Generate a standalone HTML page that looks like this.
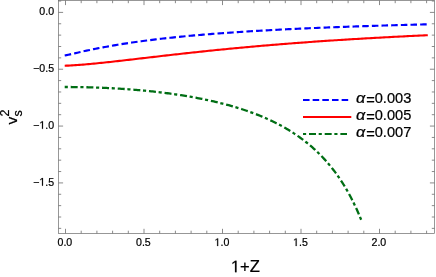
<!DOCTYPE html>
<html><head><meta charset="utf-8"><title>plot</title>
<style>
html,body{margin:0;padding:0;background:#fff;}
body{width:436px;height:277px;overflow:hidden;}
svg{display:block;will-change:transform;}
text{font-family:"Liberation Sans",sans-serif;fill:#000;stroke:#000;stroke-width:0.22px;}
</style></head><body>
<svg width="436" height="277" viewBox="0 0 436 277">
<rect width="436" height="277" fill="#fff"/>
<g fill="none" stroke-width="2.2" stroke-linecap="butt" stroke-linejoin="round">
<path d="M64.70,55.54 L66.52,55.17 L68.34,54.77 L70.16,54.36 L71.98,53.94 L73.81,53.52 L75.63,53.10 L77.45,52.68 L79.27,52.27 L81.09,51.86 L82.91,51.46 L84.73,51.06 L86.55,50.67 L88.37,50.28 L90.20,49.90 L92.02,49.52 L93.84,49.15 L95.66,48.78 L97.48,48.42 L99.30,48.06 L101.12,47.71 L102.94,47.37 L104.76,47.03 L106.59,46.69 L108.41,46.36 L110.23,46.04 L112.05,45.72 L113.87,45.41 L115.69,45.10 L117.51,44.79 L119.33,44.50 L121.15,44.20 L122.98,43.91 L124.80,43.63 L126.62,43.35 L128.44,43.07 L130.26,42.80 L132.08,42.53 L133.90,42.27 L135.72,42.01 L137.54,41.75 L139.37,41.50 L141.19,41.25 L143.01,41.01 L144.83,40.77 L146.65,40.53 L148.47,40.30 L150.29,40.07 L152.11,39.84 L153.93,39.62 L155.76,39.40 L157.58,39.18 L159.40,38.97 L161.22,38.76 L163.04,38.55 L164.86,38.35 L166.68,38.15 L168.50,37.95 L170.32,37.75 L172.15,37.56 L173.97,37.37 L175.79,37.18 L177.61,37.00 L179.43,36.81 L181.25,36.63 L183.07,36.46 L184.89,36.28 L186.71,36.11 L188.54,35.94 L190.36,35.77 L192.18,35.61 L194.00,35.44 L195.82,35.28 L197.64,35.12 L199.46,34.96 L201.28,34.81 L203.10,34.66 L204.93,34.50 L206.75,34.36 L208.57,34.21 L210.39,34.06 L212.21,33.92 L214.03,33.78 L215.85,33.64 L217.67,33.50 L219.49,33.36 L221.32,33.23 L223.14,33.09 L224.96,32.96 L226.78,32.83 L228.60,32.70 L230.42,32.57 L232.24,32.45 L234.06,32.33 L235.88,32.20 L237.71,32.08 L239.53,31.96 L241.35,31.84 L243.17,31.73 L244.99,31.61 L246.81,31.50 L248.63,31.38 L250.45,31.27 L252.27,31.16 L254.09,31.05 L255.92,30.94 L257.74,30.84 L259.56,30.73 L261.38,30.63 L263.20,30.52 L265.02,30.42 L266.84,30.32 L268.66,30.22 L270.48,30.12 L272.31,30.02 L274.13,29.93 L275.95,29.83 L277.77,29.73 L279.59,29.64 L281.41,29.55 L283.23,29.46 L285.05,29.36 L286.87,29.27 L288.70,29.19 L290.52,29.10 L292.34,29.01 L294.16,28.92 L295.98,28.84 L297.80,28.75 L299.62,28.67 L301.44,28.59 L303.26,28.50 L305.09,28.42 L306.91,28.34 L308.73,28.26 L310.55,28.18 L312.37,28.10 L314.19,28.03 L316.01,27.95 L317.83,27.87 L319.65,27.80 L321.48,27.72 L323.30,27.65 L325.12,27.58 L326.94,27.50 L328.76,27.43 L330.58,27.36 L332.40,27.29 L334.22,27.22 L336.04,27.15 L337.87,27.08 L339.69,27.02 L341.51,26.95 L343.33,26.88 L345.15,26.82 L346.97,26.75 L348.79,26.68 L350.61,26.62 L352.43,26.56 L354.26,26.49 L356.08,26.43 L357.90,26.37 L359.72,26.31 L361.54,26.25 L363.36,26.18 L365.18,26.12 L367.00,26.07 L368.82,26.01 L370.65,25.95 L372.47,25.89 L374.29,25.83 L376.11,25.78 L377.93,25.72 L379.75,25.66 L381.57,25.61 L383.39,25.55 L385.21,25.50 L387.04,25.44 L388.86,25.39 L390.68,25.34 L392.50,25.28 L394.32,25.23 L396.14,25.18 L397.96,25.13 L399.78,25.07 L401.60,25.02 L403.43,24.97 L405.25,24.92 L407.07,24.87 L408.89,24.82 L410.71,24.78 L412.53,24.73 L414.35,24.68 L416.17,24.63 L417.99,24.58 L419.82,24.54 L421.64,24.49 L423.46,24.44 L425.28,24.40 L427.10,24.35" stroke="#0000ff" stroke-width="2.15" stroke-dasharray="6.55 3.11"/>
<path d="M64.70,65.70 L66.52,65.66 L68.35,65.59 L70.17,65.50 L72.00,65.40 L73.82,65.29 L75.65,65.17 L77.47,65.05 L79.30,64.91 L81.12,64.77 L82.95,64.62 L84.77,64.47 L86.60,64.31 L88.42,64.14 L90.24,63.98 L92.07,63.80 L93.89,63.63 L95.72,63.45 L97.54,63.27 L99.37,63.08 L101.19,62.89 L103.02,62.70 L104.84,62.51 L106.67,62.31 L108.49,62.12 L110.32,61.92 L112.14,61.71 L113.96,61.51 L115.79,61.31 L117.61,61.10 L119.44,60.90 L121.26,60.69 L123.09,60.48 L124.91,60.27 L126.74,60.06 L128.56,59.85 L130.39,59.64 L132.21,59.43 L134.04,59.22 L135.86,59.00 L137.68,58.79 L139.51,58.58 L141.33,58.37 L143.16,58.15 L144.98,57.94 L146.81,57.73 L148.63,57.51 L150.46,57.30 L152.28,57.09 L154.11,56.88 L155.93,56.67 L157.76,56.46 L159.58,56.24 L161.41,56.03 L163.23,55.82 L165.05,55.62 L166.88,55.41 L168.70,55.20 L170.53,54.99 L172.35,54.78 L174.18,54.58 L176.00,54.37 L177.83,54.17 L179.65,53.97 L181.48,53.76 L183.30,53.56 L185.13,53.36 L186.95,53.16 L188.77,52.96 L190.60,52.76 L192.42,52.56 L194.25,52.37 L196.07,52.17 L197.90,51.98 L199.72,51.78 L201.55,51.59 L203.37,51.40 L205.20,51.21 L207.02,51.02 L208.85,50.83 L210.67,50.64 L212.49,50.45 L214.32,50.27 L216.14,50.08 L217.97,49.90 L219.79,49.72 L221.62,49.53 L223.44,49.35 L225.27,49.17 L227.09,49.00 L228.92,48.82 L230.74,48.64 L232.57,48.47 L234.39,48.29 L236.21,48.12 L238.04,47.95 L239.86,47.78 L241.69,47.61 L243.51,47.44 L245.34,47.27 L247.16,47.11 L248.99,46.94 L250.81,46.78 L252.64,46.61 L254.46,46.45 L256.29,46.29 L258.11,46.13 L259.93,45.97 L261.76,45.81 L263.58,45.66 L265.41,45.50 L267.23,45.35 L269.06,45.19 L270.88,45.04 L272.71,44.89 L274.53,44.74 L276.36,44.59 L278.18,44.44 L280.01,44.29 L281.83,44.14 L283.65,44.00 L285.48,43.85 L287.30,43.71 L289.13,43.57 L290.95,43.43 L292.78,43.29 L294.60,43.15 L296.43,43.01 L298.25,42.87 L300.08,42.73 L301.90,42.60 L303.73,42.46 L305.55,42.33 L307.37,42.20 L309.20,42.06 L311.02,41.93 L312.85,41.80 L314.67,41.67 L316.50,41.55 L318.32,41.42 L320.15,41.29 L321.97,41.17 L323.80,41.04 L325.62,40.92 L327.45,40.79 L329.27,40.67 L331.09,40.55 L332.92,40.43 L334.74,40.31 L336.57,40.19 L338.39,40.07 L340.22,39.96 L342.04,39.84 L343.87,39.72 L345.69,39.61 L347.52,39.50 L349.34,39.38 L351.17,39.27 L352.99,39.16 L354.82,39.05 L356.64,38.94 L358.46,38.83 L360.29,38.72 L362.11,38.61 L363.94,38.51 L365.76,38.40 L367.59,38.30 L369.41,38.19 L371.24,38.09 L373.06,37.98 L374.89,37.88 L376.71,37.78 L378.54,37.68 L380.36,37.58 L382.18,37.48 L384.01,37.38 L385.83,37.28 L387.66,37.18 L389.48,37.09 L391.31,36.99 L393.13,36.89 L394.96,36.80 L396.78,36.70 L398.61,36.61 L400.43,36.52 L402.26,36.43 L404.08,36.33 L405.90,36.24 L407.73,36.15 L409.55,36.06 L411.38,35.97 L413.20,35.88 L415.03,35.80 L416.85,35.71 L418.68,35.62 L420.50,35.54 L422.33,35.45 L424.15,35.36 L425.98,35.28 L427.80,35.20" stroke="#ff0000" stroke-width="2.1"/>
<path d="M64.70,87.00 L66.19,87.00 L67.68,87.00 L69.17,87.01 L70.66,87.02 L72.15,87.03 L73.65,87.04 L75.14,87.06 L76.63,87.08 L78.12,87.10 L79.61,87.12 L81.10,87.15 L82.59,87.17 L84.08,87.21 L85.57,87.24 L87.06,87.27 L88.56,87.31 L90.05,87.35 L91.54,87.39 L93.03,87.44 L94.52,87.49 L96.01,87.54 L97.50,87.59 L98.99,87.65 L100.48,87.70 L101.97,87.77 L103.46,87.83 L104.96,87.89 L106.45,87.96 L107.94,88.03 L109.43,88.11 L110.92,88.18 L112.41,88.26 L113.90,88.34 L115.39,88.43 L116.88,88.52 L118.37,88.60 L119.87,88.70 L121.36,88.79 L122.85,88.89 L124.34,88.99 L125.83,89.09 L127.32,89.20 L128.81,89.31 L130.30,89.42 L131.79,89.54 L133.28,89.66 L134.77,89.78 L136.27,89.90 L137.76,90.03 L139.25,90.16 L140.74,90.29 L142.23,90.43 L143.72,90.57 L145.21,90.71 L146.70,90.86 L148.19,91.00 L149.68,91.16 L151.18,91.31 L152.67,91.47 L154.16,91.63 L155.65,91.80 L157.14,91.97 L158.63,92.14 L160.12,92.32 L161.61,92.50 L163.10,92.68 L164.59,92.87 L166.08,93.06 L167.58,93.25 L169.07,93.45 L170.56,93.65 L172.05,93.86 L173.54,94.07 L175.03,94.28 L176.52,94.50 L178.01,94.72 L179.50,94.95 L180.99,95.18 L182.49,95.41 L183.98,95.65 L185.47,95.90 L186.96,96.15 L188.45,96.40 L189.94,96.65 L191.43,96.92 L192.92,97.18 L194.41,97.45 L195.90,97.73 L197.39,98.01 L198.89,98.30 L200.38,98.59 L201.87,98.89 L203.36,99.19 L204.85,99.50 L206.34,99.81 L207.83,100.13 L209.32,100.45 L210.81,100.78 L212.30,101.12 L213.80,101.46 L215.29,101.81 L216.78,102.16 L218.27,102.52 L219.76,102.89 L221.25,103.26 L222.74,103.64 L224.23,104.03 L225.72,104.42 L227.21,104.83 L228.71,105.23 L230.20,105.65 L231.69,106.07 L233.18,106.50 L234.67,106.94 L236.16,107.39 L237.65,107.85 L239.14,108.31 L240.63,108.78 L242.12,109.26 L243.61,109.75 L245.11,110.25 L246.60,110.76 L248.09,111.28 L249.58,111.80 L251.07,112.34 L252.56,112.89 L254.05,113.45 L255.54,114.02 L257.03,114.59 L258.52,115.19 L260.02,115.79 L261.51,116.40 L263.00,117.03 L264.49,117.67 L265.98,118.32 L267.47,118.98 L268.96,119.66 L270.45,120.35 L271.94,121.06 L273.43,121.78 L274.92,122.51 L276.42,123.26 L277.91,124.03 L279.40,124.81 L280.89,125.61 L282.38,126.42 L283.87,127.25 L285.36,128.10 L286.85,128.97 L288.34,129.86 L289.83,130.77 L291.33,131.70 L292.82,132.65 L294.31,133.62 L295.80,134.61 L297.29,135.63 L298.78,136.67 L300.27,137.73 L301.76,138.82 L303.25,139.94 L304.74,141.08 L306.23,142.25 L307.73,143.45 L309.22,144.68 L310.71,145.94 L312.20,147.23 L313.69,148.55 L315.18,149.91 L316.67,151.31 L318.16,152.74 L319.65,154.21 L321.14,155.72 L322.64,157.27 L324.13,158.87 L325.62,160.51 L327.11,162.20 L328.60,163.93 L330.09,165.72 L331.58,167.56 L333.07,169.45 L334.56,171.40 L336.05,173.42 L337.54,175.49 L339.04,177.63 L340.53,179.84 L342.02,182.13 L343.51,184.49 L345.00,186.92 L346.49,189.44 L347.98,192.05 L349.47,194.76 L350.96,197.55 L352.45,200.46 L353.95,203.46 L355.44,206.59 L356.93,209.83 L358.42,213.20 L359.91,216.71 L361.40,220.35" stroke="#006e14" stroke-width="2.3" stroke-dasharray="3.13 2.88 6.98 2.69"/>
</g>
<rect x="58.5" y="0.5" width="376.0" height="232.9" fill="none" stroke="#6c6c6c" stroke-width="0.7"/>
<path d="M65.50,233.4 v-4.6 M65.50,0.5 v4.6 M81.20,233.4 v-2.7 M81.20,0.5 v2.7 M96.90,233.4 v-2.7 M96.90,0.5 v2.7 M112.60,233.4 v-2.7 M112.60,0.5 v2.7 M128.30,233.4 v-2.7 M128.30,0.5 v2.7 M144.00,233.4 v-4.6 M144.00,0.5 v4.6 M159.70,233.4 v-2.7 M159.70,0.5 v2.7 M175.40,233.4 v-2.7 M175.40,0.5 v2.7 M191.10,233.4 v-2.7 M191.10,0.5 v2.7 M206.80,233.4 v-2.7 M206.80,0.5 v2.7 M222.50,233.4 v-4.6 M222.50,0.5 v4.6 M238.20,233.4 v-2.7 M238.20,0.5 v2.7 M253.90,233.4 v-2.7 M253.90,0.5 v2.7 M269.60,233.4 v-2.7 M269.60,0.5 v2.7 M285.30,233.4 v-2.7 M285.30,0.5 v2.7 M301.00,233.4 v-4.6 M301.00,0.5 v4.6 M316.70,233.4 v-2.7 M316.70,0.5 v2.7 M332.40,233.4 v-2.7 M332.40,0.5 v2.7 M348.10,233.4 v-2.7 M348.10,0.5 v2.7 M363.80,233.4 v-2.7 M363.80,0.5 v2.7 M379.50,233.4 v-4.6 M379.50,0.5 v4.6 M395.20,233.4 v-2.7 M395.20,0.5 v2.7 M410.90,233.4 v-2.7 M410.90,0.5 v2.7 M426.60,233.4 v-2.7 M426.60,0.5 v2.7 M58.5,228.37 h2.7 M434.5,228.37 h-2.7 M58.5,217.01 h2.7 M434.5,217.01 h-2.7 M58.5,205.64 h2.7 M434.5,205.64 h-2.7 M58.5,194.27 h2.7 M434.5,194.27 h-2.7 M58.5,182.91 h4.6 M434.5,182.91 h-4.6 M58.5,171.54 h2.7 M434.5,171.54 h-2.7 M58.5,160.17 h2.7 M434.5,160.17 h-2.7 M58.5,148.80 h2.7 M434.5,148.80 h-2.7 M58.5,137.44 h2.7 M434.5,137.44 h-2.7 M58.5,126.07 h4.6 M434.5,126.07 h-4.6 M58.5,114.70 h2.7 M434.5,114.70 h-2.7 M58.5,103.34 h2.7 M434.5,103.34 h-2.7 M58.5,91.97 h2.7 M434.5,91.97 h-2.7 M58.5,80.60 h2.7 M434.5,80.60 h-2.7 M58.5,69.23 h4.6 M434.5,69.23 h-4.6 M58.5,57.87 h2.7 M434.5,57.87 h-2.7 M58.5,46.50 h2.7 M434.5,46.50 h-2.7 M58.5,35.13 h2.7 M434.5,35.13 h-2.7 M58.5,23.77 h2.7 M434.5,23.77 h-2.7 M58.5,12.40 h4.6 M434.5,12.40 h-4.6 M58.5,1.03 h2.7 M434.5,1.03 h-2.7" fill="none" stroke="#6c6c6c" stroke-width="0.8"/>
<g font-size="11px"><text transform="translate(57.52,246.00) scale(0.965,1)" font-size="11px">0.0</text><text transform="translate(136.02,246.00) scale(0.965,1)" font-size="11px">0.5</text><polygon points="217.19,246.00 217.19,239.36 215.54,240.58 215.54,239.66 217.27,238.43 218.13,238.43 218.13,246.00" fill="#000" stroke="#000" stroke-width="0.22"/><text transform="translate(220.43,246.00) scale(0.965,1)" font-size="11px">.0</text><polygon points="295.69,246.00 295.69,239.36 294.04,240.58 294.04,239.66 295.77,238.43 296.63,238.43 296.63,246.00" fill="#000" stroke="#000" stroke-width="0.22"/><text transform="translate(298.93,246.00) scale(0.965,1)" font-size="11px">.5</text><text transform="translate(371.52,246.00) scale(0.965,1)" font-size="11px">2.0</text><text transform="translate(39.34,15.15) scale(0.965,1)" font-size="11px">0.0</text><text transform="translate(33.14,71.98) scale(0.965,1)" font-size="11px">−0.5</text><text transform="translate(33.14,128.82) scale(0.965,1)" font-size="11px">−</text><polygon points="42.01,128.82 42.01,122.18 40.36,123.40 40.36,122.48 42.09,121.25 42.95,121.25 42.95,128.82" fill="#000" stroke="#000" stroke-width="0.22"/><text transform="translate(45.25,128.82) scale(0.965,1)" font-size="11px">.0</text><text transform="translate(33.14,185.66) scale(0.965,1)" font-size="11px">−</text><polygon points="42.01,185.66 42.01,179.01 40.36,180.23 40.36,179.32 42.09,178.09 42.95,178.09 42.95,185.66" fill="#000" stroke="#000" stroke-width="0.22"/><text transform="translate(45.25,185.66) scale(0.965,1)" font-size="11px">.5</text></g>
<polygon points="235.04,272.20 235.04,262.17 232.46,264.01 232.46,262.64 235.16,260.78 236.51,260.78 236.51,272.20" fill="#000" stroke="#000" stroke-width="0.22"/><text transform="translate(240.10,272.20) scale(1.0,1)" font-size="16.6px">+Z</text>
<g transform="translate(17.0,124.5) rotate(-90)"><text x="0" y="0" font-size="15.5px">v</text><text x="7.9" y="-8.0" font-size="12.5px">2</text><text x="7.9" y="5.2" font-size="12.5px">s</text></g>
<g fill="none" stroke-width="2.0">
<path d="M303,99.9 H348.5" stroke="#0000ff" stroke-dasharray="6.55 3.11"/>
<path d="M303,116.95 H351.3" stroke="#ff0000"/>
<path d="M303,134.0 H347" stroke="#006e14" stroke-dasharray="3.13 2.88 6.98 2.69"/>
</g>
<g font-size="15.4px">
<text transform="translate(355.9,103.2) scale(1.06,1)" font-style="italic">α</text><text transform="translate(366.15,104.70) scale(0.95,1)">=</text><text transform="translate(374.69,103.2) scale(0.95,1)">0.003</text>
<text transform="translate(355.9,120.2) scale(1.06,1)" font-style="italic">α</text><text transform="translate(366.15,121.70) scale(0.95,1)">=</text><text transform="translate(374.69,120.2) scale(0.95,1)">0.005</text>
<text transform="translate(355.9,137.05) scale(1.06,1)" font-style="italic">α</text><text transform="translate(366.15,138.55) scale(0.95,1)">=</text><text transform="translate(374.69,137.05) scale(0.95,1)">0.007</text>
</g>
</svg>
</body></html>
